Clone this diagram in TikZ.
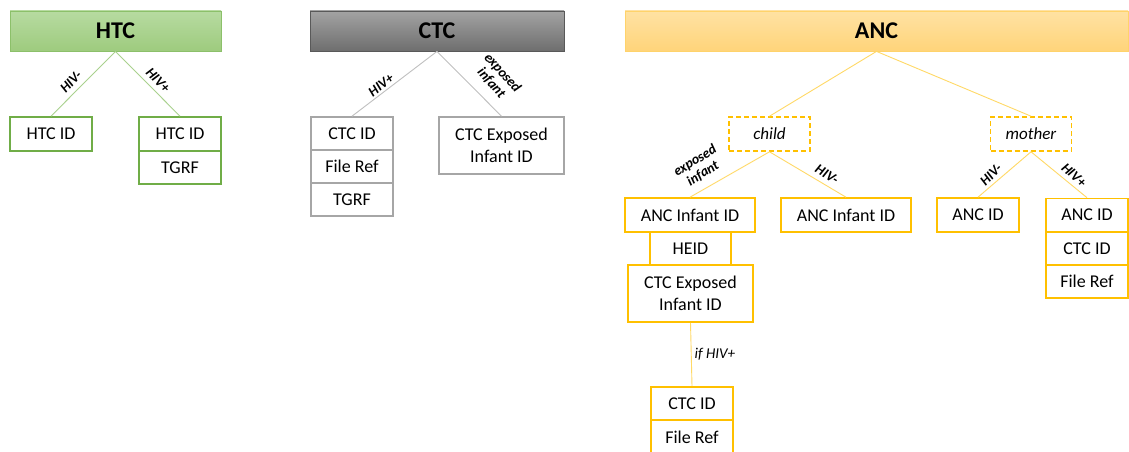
\documentclass[tikz,border=0pt]{standalone}
\usepackage{fontspec}
\setmainfont{Carlito}
\definecolor{gborder}{HTML}{70AD47}
\definecolor{gline}{HTML}{A9D18E}
\definecolor{gtop}{HTML}{B7DBA1}
\definecolor{gbot}{HTML}{9ECB7E}
\definecolor{ghdr}{HTML}{8CC06A}
\definecolor{kborder}{HTML}{A6A6A6}
\definecolor{kline}{HTML}{C0C0C0}
\definecolor{ktop}{HTML}{A3A3A3}
\definecolor{kbot}{HTML}{6E6E6E}
\definecolor{khdr}{HTML}{595959}
\definecolor{yborder}{HTML}{FFC000}
\definecolor{yline}{HTML}{FFD966}
\definecolor{ytop}{HTML}{FFE2A3}
\definecolor{ybot}{HTML}{FFD47A}
\definecolor{yhdr}{HTML}{FFD36B}
\tikzset{
  cell/.style={draw, line width=1.6pt, inner sep=0pt, align=center,
    font=\fontsize{18}{22}\selectfont},
  gcell/.style={cell, draw=gborder},
  kcell/.style={cell, draw=kborder},
  ycell/.style={cell, draw=yborder},
  hdr/.style={draw, line width=0.8pt, inner sep=0pt, minimum height=40pt,
    font=\fontsize{24}{28}\selectfont\bfseries},
  dbox/.style={draw=yborder, dashed, dash pattern=on 5pt off 3pt, line width=1.6pt,
    inner sep=0pt, minimum width=81pt, minimum height=34pt,
    font=\fontsize{17}{20}\selectfont\itshape},
  lab/.style={inner sep=0pt, align=center, font=\fontsize{14}{15}\selectfont\bfseries\itshape},
  glink/.style={draw=gline, line width=0.9pt},
  klink/.style={draw=kline, line width=0.9pt},
  ylink/.style={draw=yline, line width=0.9pt},
}
\begin{document}
\begin{tikzpicture}[x=1pt,y=-1pt]
\clip (0,0) rectangle (1129,452);
\fill[white] (0,0) rectangle (1129,452);

% ---------- HTC ----------
\node[hdr, draw=ghdr, top color=gtop, bottom color=gbot, minimum width=211pt] (htc) at (115.5,31) {HTC};
\node[gcell, minimum width=82pt, minimum height=34pt] (h1) at (51,134) {HTC ID};
\node[gcell, minimum width=82pt, minimum height=34pt] (h2) at (180,134) {HTC ID};
\node[gcell, minimum width=82pt, minimum height=33pt] (h3) at (180,167.5) {TGRF};
\draw[glink] (htc.south) -- (h1.north);
\draw[glink] (htc.south) -- (h2.north);
\node[lab, rotate=46] (lh1) at (71,82) {HIV-};
\node[lab, rotate=-46] (lh2) at (158,80) {HIV+};

% ---------- CTC ----------
\node[hdr, draw=khdr, top color=ktop, bottom color=kbot, minimum width=254pt] (ctc) at (437,31) {CTC};
\node[kcell, minimum width=82pt, minimum height=33pt] (c1) at (352,133.5) {CTC ID};
\node[kcell, minimum width=82pt, minimum height=33pt] (c2) at (352,166.5) {File Ref};
\node[kcell, minimum width=82pt, minimum height=33pt] (c3) at (352,199.5) {TGRF};
\node[kcell, minimum width=125pt, minimum height=57pt] (c4) at (501.5,145.5) {CTC Exposed\\Infant ID};
\draw[klink] (ctc.south) -- (c1.north);
\draw[klink] (ctc.south) -- (c4.north);
\node[lab, rotate=38] (lc1) at (381,85) {HIV+};
\node[lab, rotate=-48] (lc2) at (497,78) {exposed\\infant};

% ---------- ANC ----------
\node[hdr, draw=yhdr, top color=ytop, bottom color=ybot, minimum width=503pt] (anc) at (876.5,31) {ANC};
\node[dbox] (child) at (769.5,134) {child};
\node[dbox] (mother) at (1031,134) {mother};
\draw[ylink] (anc.south) -- (child.north);
\draw[ylink] (anc.south) -- (mother.north);

\node[ycell, minimum width=130pt, minimum height=34pt] (a1) at (690,215) {ANC Infant ID};
\node[ycell, minimum width=130pt, minimum height=34pt] (a2) at (846,215) {ANC Infant ID};
\draw[ylink] (child.south) -- (a1.north);
\draw[ylink] (child.south) -- (a2.north);
\node[lab, rotate=32] (la1) at (699,167) {exposed\\infant};
\node[lab, rotate=-32] (la2) at (827,174) {HIV-};

\node[inner sep=0pt, minimum width=81pt, minimum height=33pt, font=\fontsize{18}{22}\selectfont] (heid) at (690.5,248.5) {HEID};
\draw[draw=yborder, line width=1.6pt] (heid.north west) -- (heid.south west);
\draw[draw=yborder, line width=1.6pt] (heid.north east) -- (heid.south east);
\node[ycell, minimum width=125pt, minimum height=57pt] (a3) at (690.5,293.5) {CTC Exposed\\Infant ID};
\node[ycell, minimum width=82pt, minimum height=33pt] (a4) at (692,403.5) {CTC ID};
\node[ycell, minimum width=82pt, minimum height=34pt] (a5) at (692,437) {File Ref};
\draw[ylink] (a3.south) -- node[right, inner sep=3pt, font=\fontsize{15}{18}\selectfont\itshape] (lif) {if HIV+} (a4.north);

\node[ycell, minimum width=82pt, minimum height=34pt] (m1) at (978,215) {ANC ID};
\node[ycell, minimum width=82pt, minimum height=33pt] (m2) at (1087,215) {ANC ID};
\node[ycell, minimum width=82pt, minimum height=33pt] (m3) at (1087,248.5) {CTC ID};
\node[ycell, minimum width=82pt, minimum height=33pt] (m4) at (1087,281.5) {File Ref};
\draw[ylink] (mother.south) -- (m1.north);
\draw[ylink] (mother.south) -- (m2.north);
\node[lab, rotate=45] (lm1) at (991,175) {HIV-};
\node[lab, rotate=-42] (lm2) at (1074,175) {HIV+};
\end{tikzpicture}
\end{document}
